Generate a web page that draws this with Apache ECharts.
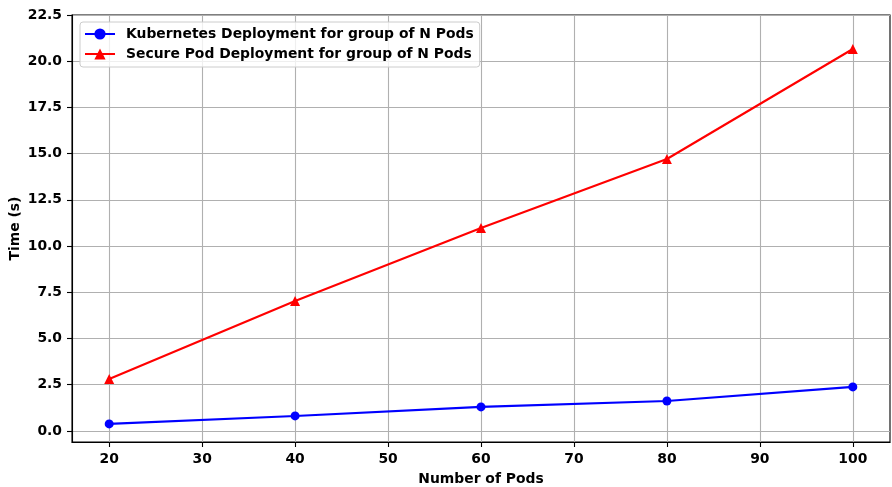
<!DOCTYPE html>
<html>
<head>
<meta charset="utf-8">
<script src="https://cdn.jsdelivr.net/npm/echarts@6/dist/echarts.min.js"></script>
<style>html,body{margin:0;padding:0;background:#fff;}#c{width:892px;height:487px;}</style>
</head>
<body>
<div id="c"></div>
<script>
var pods = [20, 40, 60, 80, 100];
var k8sTimes = [0.38, 0.81, 1.30, 1.62, 2.38];
var secureTimes = [2.81, 7.03, 10.98, 14.71, 20.66];
var xTicks = [20, 30, 40, 50, 60, 70, 80, 90, 100];
var yTicks = [0, 2.5, 5, 7.5, 10, 12.5, 15, 17.5, 20, 22.5];
var seriesNames = ['Kubernetes Deployment for group of N Pods', 'Secure Pod Deployment for group of N Pods'];

var FONT = 'DejaVu Sans';
var FS = 13.9;
function pairs(xs, ys) { return xs.map(function (x, i) { return [x, ys[i]]; }); }

var chart = echarts.init(document.getElementById('c'), null, {renderer: 'canvas'});
chart.setOption({
  animation: false,
  backgroundColor: '#fff',
  grid: {left: 72, top: 15, right: 2, bottom: 45, show: true, borderColor: '#000', borderWidth: 1.1,
    containLabel: false, outerBoundsMode: 'none'},
  legend: {
    orient: 'vertical', left: 80, top: 22,
    itemWidth: 30, itemHeight: 14, itemGap: 6,
    padding: [5, 6, 6, 4],
    backgroundColor: 'rgba(255,255,255,0.8)',
    borderColor: '#cccccc', borderWidth: 1, borderRadius: 3,
    textStyle: {fontFamily: FONT, fontWeight: 'bold', fontSize: FS, color: '#000', padding: [0, 0, 0, 6]},
    data: seriesNames
  },
  xAxis: {
    type: 'value', min: 16, max: 104,
    name: 'Number of Pods', nameLocation: 'middle', nameGap: 30, nameMoveOverlap: false,
    nameTextStyle: {fontFamily: FONT, fontWeight: 'bold', fontSize: FS, color: '#000'},
    axisLine: {show: true, onZero: false, lineStyle: {color: '#000', width: 1.1}},
    axisTick: {show: true, inside: false, length: 5, lineStyle: {color: '#000', width: 1.1}, customValues: xTicks},
    axisLabel: {fontFamily: FONT, fontWeight: 'bold', fontSize: FS, color: '#000', margin: 10, customValues: xTicks},
    splitLine: {show: true, lineStyle: {color: '#b0b0b0', width: 1.1}}
  },
  yAxis: {
    type: 'value', min: -0.6, max: 22.5,
    name: 'Time (s)', nameLocation: 'middle', nameGap: 50, nameMoveOverlap: false,
    nameTextStyle: {fontFamily: FONT, fontWeight: 'bold', fontSize: FS, color: '#000'},
    axisLine: {show: true, onZero: false, lineStyle: {color: '#000', width: 1.1}},
    axisTick: {show: true, inside: false, length: 5, lineStyle: {color: '#000', width: 1.1}, customValues: yTicks},
    axisLabel: {fontFamily: FONT, fontWeight: 'bold', fontSize: FS, color: '#000', margin: 10, customValues: yTicks,
      formatter: function (v) { return v.toFixed(1); }},
    splitLine: {show: true, lineStyle: {color: '#b0b0b0', width: 1.1}}
  },
  series: [
    {
      name: seriesNames[0], type: 'line', data: pairs(pods, k8sTimes),
      symbol: 'circle', symbolSize: 9,
      lineStyle: {color: '#0000ff', width: 2.1}, itemStyle: {color: '#0000ff'}
    },
    {
      name: seriesNames[1], type: 'line', data: pairs(pods, secureTimes),
      symbol: 'triangle', symbolSize: 10,
      lineStyle: {color: '#ff0000', width: 2.1}, itemStyle: {color: '#ff0000'}
    }
  ]
});
</script>
</body>
</html>
